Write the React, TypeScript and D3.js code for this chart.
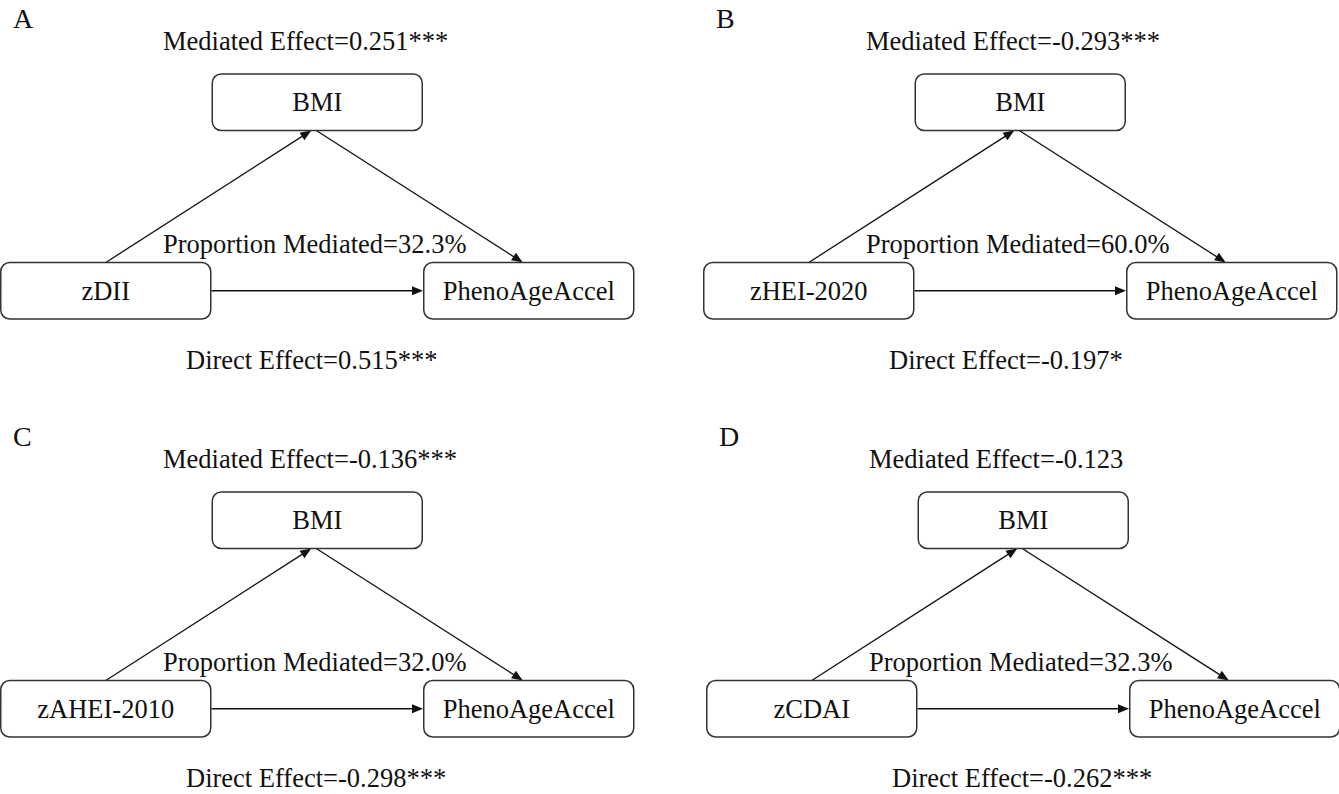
import React, { useEffect, useRef } from "react";
import * as d3 from "d3";

// ---- data ----
const panelLabels = ["A", "B", "C", "D"];
const exposures = ["zDII", "zHEI-2020", "zAHEI-2010", "zCDAI"];
const mediatorName = "BMI";
const outcomeName = "PhenoAgeAccel";
const mediatedEffects = ["0.251***", "-0.293***", "-0.136***", "-0.123"];
const proportionMediated = ["32.3%", "60.0%", "32.0%", "32.3%"];
const directEffects = ["0.515***", "-0.197*", "-0.298***", "-0.262***"];

// ---- layout ----
const W = 1339;
const H = 794;
const panelX = [0, 703, 0, 706];
const panelY = [0, 0, 418, 418];
const BOX_W = 211.5;
const BOX_H = 56.5;
const FONT = '"Liberation Serif", Tinos, "Times New Roman", "Nimbus Roman", "DejaVu Serif", serif';
const FS = 26.5;
const INK = "#111";
const STROKE = "#333";

export default function App() {
  const ref = useRef<SVGSVGElement>(null);

  useEffect(() => {
    const svg = d3.select(ref.current);
    svg.selectAll("*").remove();
    svg.append("rect").attr("width", W).attr("height", H).attr("fill", "#fff");

    const arrowHead = (g: any, x1: number, y1: number, x2: number, y2: number) => {
      const ang = Math.atan2(y2 - y1, x2 - x1);
      const len = 11;
      const hw = 4.5;
      const bx = x2 - len * Math.cos(ang);
      const by = y2 - len * Math.sin(ang);
      const px = -Math.sin(ang) * hw;
      const py = Math.cos(ang) * hw;
      g.append("path")
        .attr("d", `M${x2},${y2}L${bx + px},${by + py}L${bx - px},${by - py}Z`)
        .attr("fill", INK);
    };

    const arrow = (g: any, x1: number, y1: number, x2: number, y2: number) => {
      const ang = Math.atan2(y2 - y1, x2 - x1);
      g.append("line")
        .attr("x1", x1)
        .attr("y1", y1)
        .attr("x2", x2 - 9 * Math.cos(ang))
        .attr("y2", y2 - 9 * Math.sin(ang))
        .attr("stroke", INK)
        .attr("stroke-width", 1.3);
      arrowHead(g, x1, y1, x2, y2);
    };

    const addText = (g: any, x: number, y: number, s: string, size: number, anchor = "start") =>
      g.append("text")
        .attr("x", x)
        .attr("y", y)
        .attr("text-anchor", anchor)
        .style("font-family", FONT)
        .style("font-size", `${size}px`)
        .attr("fill", INK)
        .text(s);

    const box = (g: any, x: number, y: number, label: string) => {
      g.append("rect")
        .attr("x", x + 0.75)
        .attr("y", y)
        .attr("width", BOX_W - 1.5)
        .attr("height", BOX_H)
        .attr("rx", 9)
        .attr("ry", 9)
        .attr("fill", "#fff")
        .attr("stroke", STROKE)
        .attr("stroke-width", 1.5);
      addText(g, x + BOX_W / 2, y + BOX_H / 2 + 9, label, FS, "middle");
    };

    panelLabels.forEach((lab, i) => {
      const g = svg.append("g").attr("transform", `translate(${panelX[i]},${panelY[i]})`);

      // horizontal positions of the three boxes
      const xs = d3.scaleLinear().domain([0, 1]).range([0, BOX_W]);
      const leftX = xs(0);
      const midX = xs(1);
      const rightX = xs(2);
      const topY = 74;
      const botY = 262.5;

      addText(g, 13, 28, lab, 28);
      addText(g, 163, 50, `Mediated Effect=${mediatedEffects[i]}`, FS);

      // edges
      const bmiCx = midX + BOX_W / 2;
      const bmiBot = topY + BOX_H;
      const leftCx = leftX + BOX_W / 2;
      const rightCx = rightX + BOX_W / 2;
      const midY = botY + BOX_H / 2;

      arrow(g, leftCx, botY, bmiCx - 6, bmiBot);
      arrow(g, bmiCx - 1, bmiBot, rightCx - 6, botY);
      arrow(g, leftX + BOX_W, midY, rightX, midY);

      box(g, midX, topY, mediatorName);
      box(g, leftX, botY, exposures[i]);
      box(g, rightX, botY, outcomeName);

      addText(g, 163, 252.7, `Proportion Mediated=${proportionMediated[i]}`, FS);
      addText(g, 186, 368.5, `Direct Effect=${directEffects[i]}`, FS);
    });
  }, []);

  return (
    <svg
      ref={ref}
      width={W}
      height={H}
      style={{ position: "absolute", left: 0, top: 0, display: "block" }}
    />
  );
}
